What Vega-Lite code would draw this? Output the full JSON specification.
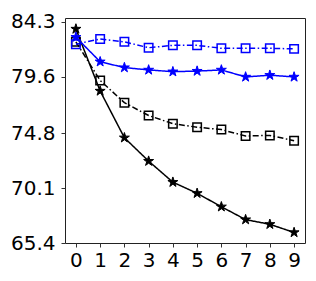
{
  "$schema": "https://vega.github.io/schema/vega-lite/v6.json",
  "autosize": "none",
  "padding": {"left": 65, "top": 18, "right": 11, "bottom": 38},
  "width": 240,
  "height": 225,
  "background": "white",
  "config": {
    "font": "DejaVu Sans",
    "view": {"stroke": "#222", "strokeWidth": 1},
    "axis": {
      "grid": false,
      "domain": false,
      "labelFont": "DejaVu Sans",
      "labelFontSize": 20,
      "labelColor": "#000",
      "tickColor": "#333",
      "tickSize": 4,
      "tickWidth": 1,
      "title": null
    }
  },
  "data": {
    "values": [
      {"x": 0, "s": "A", "y": 83.7}, {"x": 1, "s": "A", "y": 78.4}, {"x": 2, "s": "A", "y": 74.4}, {"x": 3, "s": "A", "y": 72.4}, {"x": 4, "s": "A", "y": 70.6},
      {"x": 5, "s": "A", "y": 69.65}, {"x": 6, "s": "A", "y": 68.5}, {"x": 7, "s": "A", "y": 67.4}, {"x": 8, "s": "A", "y": 67.0}, {"x": 9, "s": "A", "y": 66.3},
      {"x": 0, "s": "B", "y": 82.6}, {"x": 1, "s": "B", "y": 79.3}, {"x": 2, "s": "B", "y": 77.4}, {"x": 3, "s": "B", "y": 76.3}, {"x": 4, "s": "B", "y": 75.6},
      {"x": 5, "s": "B", "y": 75.3}, {"x": 6, "s": "B", "y": 75.1}, {"x": 7, "s": "B", "y": 74.55}, {"x": 8, "s": "B", "y": 74.6}, {"x": 9, "s": "B", "y": 74.15},
      {"x": 0, "s": "C", "y": 83.0}, {"x": 1, "s": "C", "y": 80.9}, {"x": 2, "s": "C", "y": 80.4}, {"x": 3, "s": "C", "y": 80.2}, {"x": 4, "s": "C", "y": 80.05},
      {"x": 5, "s": "C", "y": 80.1}, {"x": 6, "s": "C", "y": 80.2}, {"x": 7, "s": "C", "y": 79.6}, {"x": 8, "s": "C", "y": 79.75}, {"x": 9, "s": "C", "y": 79.6},
      {"x": 0, "s": "D", "y": 82.4}, {"x": 1, "s": "D", "y": 82.85}, {"x": 2, "s": "D", "y": 82.6}, {"x": 3, "s": "D", "y": 82.1}, {"x": 4, "s": "D", "y": 82.3},
      {"x": 5, "s": "D", "y": 82.3}, {"x": 6, "s": "D", "y": 82.05}, {"x": 7, "s": "D", "y": 82.05}, {"x": 8, "s": "D", "y": 82.05}, {"x": 9, "s": "D", "y": 82.0}
    ]
  },
  "encoding": {
    "x": {
      "field": "x", "type": "quantitative",
      "scale": {"domain": [-0.45, 9.45], "nice": false, "zero": false},
      "axis": {"values": [0, 1, 2, 3, 4, 5, 6, 7, 8, 9], "labelPadding": 3.5, "labelFlush": false}
    },
    "y": {
      "field": "y", "type": "quantitative",
      "scale": {"domain": [65.4, 84.64], "nice": false, "zero": false},
      "axis": {"values": [65.4, 70.1, 74.8, 79.6, 84.3], "format": ".1f", "labelPadding": 6, "labelFlush": false}
    },
    "color": {
      "field": "s", "type": "nominal",
      "scale": {"domain": ["A", "B", "C", "D"], "range": ["#000000", "#000000", "#0000ff", "#0000ff"]},
      "legend": null
    }
  },
  "layer": [
    {
      "mark": {"type": "line", "strokeWidth": 1.5},
      "encoding": {
        "strokeDash": {
          "field": "s", "type": "nominal",
          "scale": {"domain": ["A", "B", "C", "D"], "range": [[1, 0], [6, 2.5, 1.5, 2.5], [1, 0], [6, 2.5, 1.5, 2.5]]},
          "legend": null
        }
      }
    },
    {
      "transform": [{"filter": "datum.s === 'B' || datum.s === 'D'"}],
      "mark": {"type": "point", "shape": "square", "filled": false, "strokeWidth": 1.5, "size": 72, "opacity": 1}
    },
    {
      "transform": [{"filter": "datum.s === 'A' || datum.s === 'C'"}],
      "mark": {"type": "point", "shape": "M0,-1L0.2245,-0.309L0.951,-0.309L0.363,0.118L0.588,0.809L0,0.382L-0.588,0.809L-0.363,0.118L-0.951,-0.309L-0.2245,-0.309Z", "filled": true, "strokeWidth": 1, "size": 110, "opacity": 1},
      "encoding": {
        "stroke": {"field": "s", "type": "nominal", "scale": {"domain": ["A", "C"], "range": ["#000000", "#0000ff"]}, "legend": null}
      }
    }
  ]
}
